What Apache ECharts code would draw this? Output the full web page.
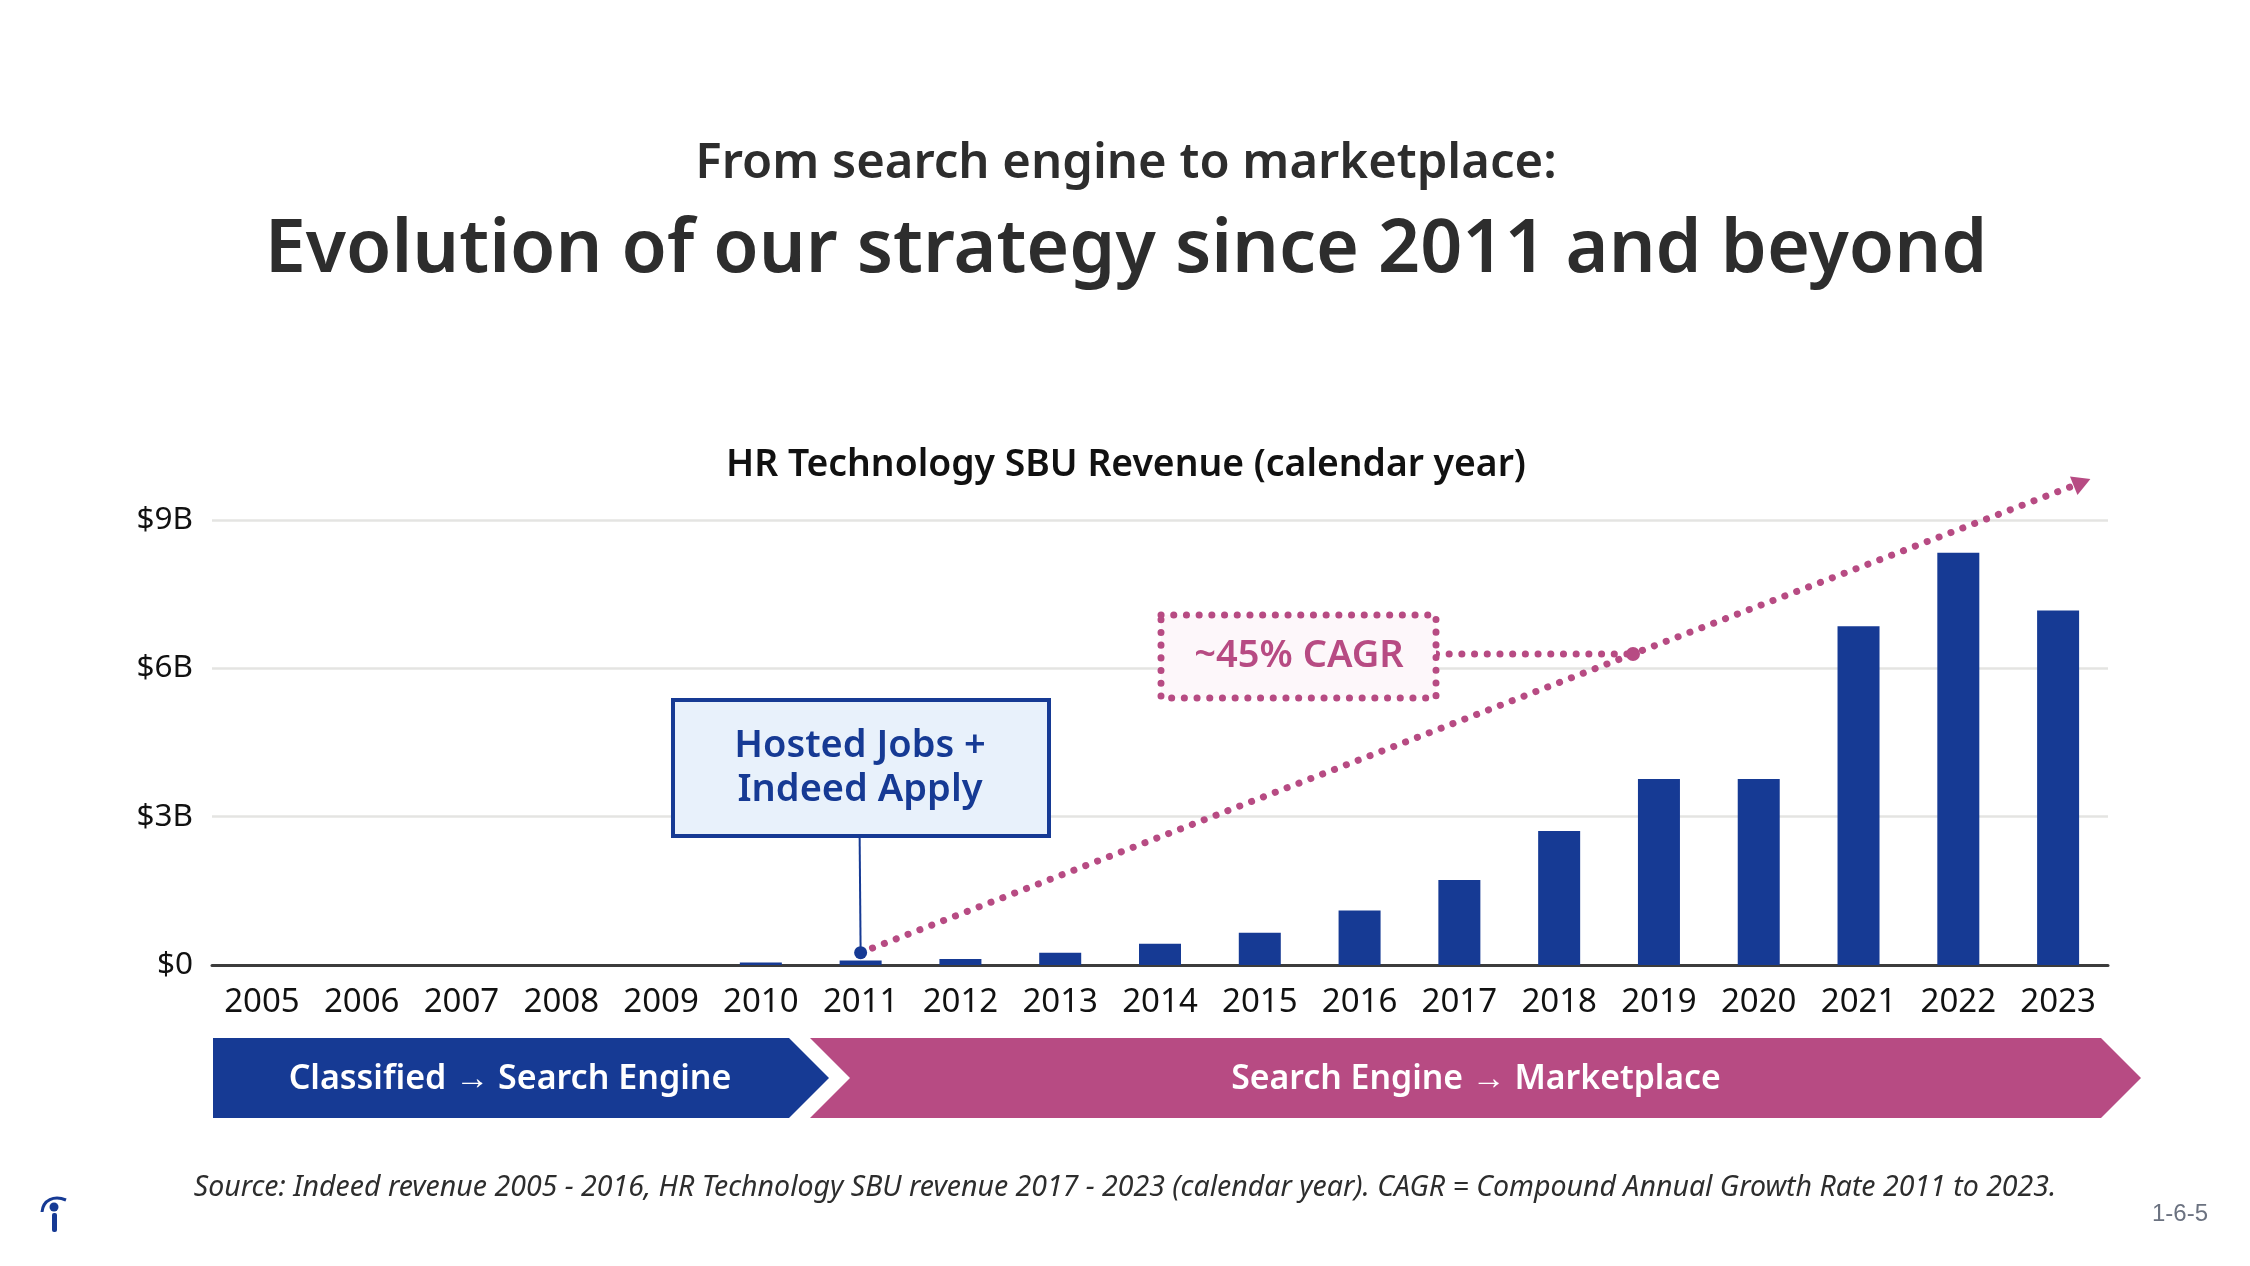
<!DOCTYPE html>
<html>
<head>
<meta charset="utf-8">
<title>Evolution of our strategy</title>
<script src="https://cdn.jsdelivr.net/npm/echarts@6/dist/echarts.min.js"></script>
<style>
html, body { margin: 0; padding: 0; background: #fff; }
#chart { width: 2250px; height: 1266px; }
</style>
</head>
<body>
<div id="chart"></div>
<script>
// data, revenue in $B
const years = ['2005', '2006', '2007', '2008', '2009', '2010', '2011', '2012', '2013', '2014',
    '2015', '2016', '2017', '2018', '2019', '2020', '2021', '2022', '2023'];
const revenue = [0, 0, 0, 0, 0, 0.05, 0.09, 0.12, 0.25, 0.43, 0.65, 1.1, 1.72, 2.71, 3.76, 3.76, 6.85, 8.34, 7.17];
const yTicks = [0, 3, 6, 9];

// annotation lines, x in "category slots" from the left of the plot, y in $B
const trendLine = [[6.5, 0.25], [14.24, 6.29], [18.74, 9.76]];
const cagrLink = [[12.27, 6.29], [14.24, 6.29]];
const hostedLink = [[6.49, 2.6], [6.5, 0.25]];

const BLUE = '#163a94';
const PINK = '#b74b83';
const DARK = '#2d2d2d';
const FONT = '"Noto Sans", sans-serif';

function label(text, x, y, size, color, weight, extra) {
    return {
        type: 'text', x: x, y: y, z: 20,
        style: Object.assign({
            text: text, fill: color, fontFamily: FONT, fontSize: size, fontWeight: weight,
            align: 'center', verticalAlign: 'middle'
        }, extra || {})
    };
}

let chart = echarts.init(document.getElementById('chart'), null, { renderer: 'canvas' });

let option = {
    animation: false,
    backgroundColor: '#fff',
    title: [
        { text: 'From search engine to marketplace:', left: 1121, top: 159, textAlign: 'center', textVerticalAlign: 'middle',
          textStyle: { fontFamily: FONT, fontSize: 49, fontWeight: 600, color: DARK } },
        { text: 'Evolution of our strategy since 2011 and beyond', left: 1121, top: 246, textAlign: 'center', textVerticalAlign: 'middle',
          textStyle: { fontFamily: FONT, fontSize: 73.6, fontWeight: 600, color: DARK } },
        { text: 'HR Technology SBU Revenue (calendar year)', left: 1121, top: 460, textAlign: 'center', textVerticalAlign: 'middle',
          textStyle: { fontFamily: FONT, fontSize: 37.3, fontWeight: 600, color: '#111' } }
    ],
    grid: { left: 212, right: 142, top: 520, bottom: 301 },
    xAxis: [
        {
            type: 'category', data: years,
            axisTick: { show: false },
            axisLine: { lineStyle: { color: '#3c3c3c', width: 3 } },
            axisLabel: { fontFamily: FONT, fontSize: 33, color: '#111', margin: 21, interval: 0 }
        },
        // hidden axis so the annotation lines can sit between and past the categories
        { type: 'value', min: 0, max: years.length, show: false }
    ],
    yAxis: {
        type: 'value', min: yTicks[0], max: yTicks[yTicks.length - 1], interval: 3,
        axisLine: { show: false },
        axisTick: { show: false },
        axisLabel: {
            fontFamily: FONT, fontSize: 31.5, color: '#111', margin: 19, padding: [0, 0, 5, 0],
            formatter: function (v) { return '$' + v + (v === 0 ? '' : 'B'); }
        },
        splitLine: { lineStyle: { color: '#e4e4e2', width: 2.5 } }
    },
    series: [
        {
            type: 'bar', data: revenue, barWidth: 42,
            itemStyle: { color: BLUE }
        },
        {
            type: 'line', xAxisIndex: 1, clip: false, z: 5,
            data: [
                { value: hostedLink[0], symbol: 'none' },
                { value: hostedLink[1], symbol: 'circle', symbolSize: 13 }
            ],
            lineStyle: { color: BLUE, width: 2 },
            itemStyle: { color: BLUE }
        },
        {
            type: 'line', xAxisIndex: 1, clip: false, z: 4,
            data: [
                { value: trendLine[0], symbol: 'none' },
                { value: trendLine[1], symbol: 'circle', symbolSize: 14 },
                { value: trendLine[2], symbol: 'triangle', symbolSize: [20, 18], symbolRotate: -68 }
            ],
            lineStyle: { color: PINK, width: 7, type: [0.1, 12.6], cap: 'round' },
            itemStyle: { color: PINK }
        },
        {
            type: 'line', xAxisIndex: 1, clip: false, z: 4,
            data: cagrLink, symbol: 'none',
            lineStyle: { color: PINK, width: 7, type: [0.1, 12.6], cap: 'round' }
        }
    ],
    graphic: [
        // Hosted Jobs callout
        { type: 'rect', z: 15, shape: { x: 673, y: 700, width: 376, height: 136 },
          style: { fill: '#e8f1fb', stroke: BLUE, lineWidth: 4 } },
        label('Hosted Jobs +', 860, 746, 38, BLUE, 600),
        label('Indeed Apply', 860, 790, 38, BLUE, 600),

        // CAGR callout
        { type: 'rect', z: 15, shape: { x: 1161, y: 615, width: 275, height: 83 },
          style: { fill: '#fdf7fa', stroke: PINK, lineWidth: 7, lineDash: [0.1, 12.6], lineCap: 'round' } },
        label('~45% CAGR', 1299, 656, 38, PINK, 600),

        // phase ribbons
        { type: 'polygon', z: 10, shape: { points: [[213, 1038], [789, 1038], [829, 1078], [789, 1118], [213, 1118]] },
          style: { fill: BLUE } },
        { type: 'polygon', z: 10, shape: { points: [[810, 1038], [2101, 1038], [2141, 1078], [2101, 1118], [810, 1118], [850, 1078]] },
          style: { fill: PINK } },
        label('Classified \u2192 Search Engine', 510, 1079, 34, '#fff', 600),
        label('Search Engine \u2192 Marketplace', 1476, 1079, 33.8, '#fff', 600),

        // footer
        label('Source: Indeed revenue 2005 - 2016, HR Technology SBU revenue 2017 - 2023 (calendar year). CAGR = Compound Annual Growth Rate 2011 to 2023.',
            1125, 1188, 28.5, DARK, 400, { fontStyle: 'italic' }),
        label('1-6-5', 2180, 1214, 24, '#6b7280', 400, { fontFamily: '"Liberation Sans", Arial, sans-serif' }),

        // logo
        { type: 'circle', z: 20, shape: { cx: 54, cy: 1207, r: 4.5 }, style: { fill: BLUE } },
        { type: 'rect', z: 20, shape: { x: 52, y: 1213, width: 5, height: 19, r: 2 }, style: { fill: BLUE } },
        { type: 'bezierCurve', z: 20,
          shape: { x1: 42, y1: 1212, cpx1: 43, cpy1: 1200, cpx2: 54, cpy2: 1195, x2: 66, y2: 1200 },
          style: { fill: 'none', stroke: BLUE, lineWidth: 3 } }
    ]
};

chart.setOption(option);
</script>
</body>
</html>
